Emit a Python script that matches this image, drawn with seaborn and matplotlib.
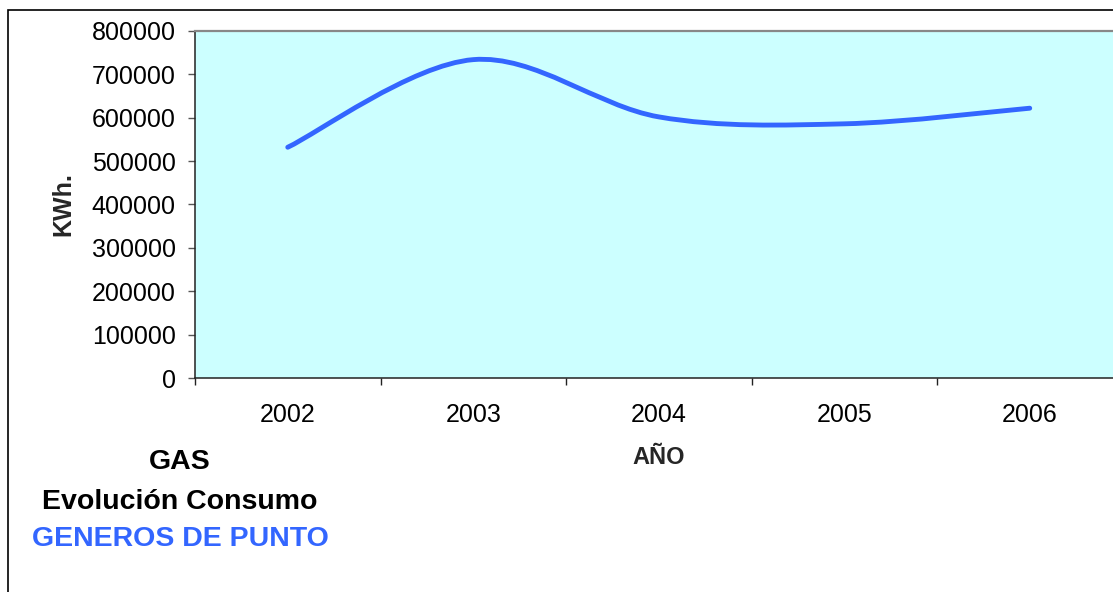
import numpy as np
import pandas as pd
import matplotlib
matplotlib.use("Agg")
import matplotlib.pyplot as plt
from matplotlib.path import Path
from matplotlib.patches import PathPatch, Rectangle
from matplotlib.ticker import FixedLocator, FuncFormatter
import seaborn as sns

# ---- data -------------------------------------------------------------
years = ["2002", "2003", "2004", "2005", "2006"]
consumo_kwh = [532000, 734000, 602000, 586000, 622000]
y_ticks = [0, 100000, 200000, 300000, 400000, 500000, 600000, 700000, 800000]

title_lines = ["GAS", "Evolución Consumo"]
subtitle = "GENEROS DE PUNTO"
x_label = "AÑO"
y_label = "KWh."

df = pd.DataFrame({"year": years, "kwh": consumo_kwh})

# ---- style ------------------------------------------------------------
sns.set_theme(style="white")
plt.rcParams["font.family"] = ["Liberation Sans", "DejaVu Sans"]

LINE_BLUE = "#3366FF"
PLOT_BG = "#CCFFFF"
TICK_FS = 18
TITLE_FS = 20.5

W, H = 1113, 592
fig = plt.figure(figsize=(W / 100, H / 100), dpi=100)
fig.patch.set_facecolor("white")

# plot area in pixel coordinates (right edge runs slightly past the canvas)
left, right, top, bottom = 195, 1122.5, 31, 378
ax = fig.add_axes([left / W, 1 - bottom / H, (right - left) / W, (bottom - top) / H])
ax.set_facecolor(PLOT_BG)

# ---- smoothed consumption line (Catmull-Rom style Bezier segments) ------
xs = np.arange(len(df), dtype=float)
ys = df["kwh"].to_numpy(dtype=float)
pts = np.column_stack([xs, ys])
ext = np.vstack([pts[0], pts, pts[-1]])
verts = [pts[0]]
codes = [Path.MOVETO]
for i in range(len(pts) - 1):
    p0, p1, p2, p3 = ext[i], ext[i + 1], ext[i + 2], ext[i + 3]
    c1 = p1 + (p2 - p0) / 6.0
    c2 = p2 - (p3 - p1) / 6.0
    verts += [c1, c2, p2]
    codes += [Path.CURVE4] * 3
curve = PathPatch(Path(verts, codes), fill=False, edgecolor=LINE_BLUE,
                  linewidth=3.5, capstyle="round", joinstyle="round",
                  transform=ax.transData, zorder=3)
ax.add_patch(curve)

# ---- axes ---------------------------------------------------------------
ax.set_xlim(-0.5, len(years) - 0.5)
ax.set_ylim(y_ticks[0], y_ticks[-1])
ax.grid(False)

ax.xaxis.set_major_locator(FixedLocator(xs))
ax.set_xticklabels(years)
ax.xaxis.set_minor_locator(FixedLocator(np.arange(-0.5, len(years), 1.0)))
ax.yaxis.set_major_locator(FixedLocator(y_ticks))
ax.yaxis.set_major_formatter(FuncFormatter(lambda v, _: f"{int(v)}"))

ax.tick_params(axis="x", which="major", bottom=True, length=0, pad=18,
               labelsize=TICK_FS, labelcolor="black")
ax.tick_params(axis="x", which="minor", bottom=True, length=5, width=1.0,
               direction="out", color="#222222")
ax.tick_params(axis="y", which="major", left=True, length=5, width=1.0,
               direction="out", color="#555555", pad=9, labelsize=TICK_FS,
               labelcolor="black")

for side in ("left", "bottom"):
    ax.spines[side].set_color("#222222")
    ax.spines[side].set_linewidth(1.1)
for side in ("top", "right"):
    ax.spines[side].set_color("#888888")
    ax.spines[side].set_linewidth(1.6)

ax.set_xlabel(x_label, fontsize=17, fontweight="bold", va="baseline")
ax.xaxis.set_label_coords(0.5, (bottom - 464) / (bottom - top))
ax.set_ylabel(y_label, fontsize=18, fontweight="bold", va="center")
ax.yaxis.set_label_coords((63 - left) / (right - left), 0.5)

# ---- title block ----------------------------------------------------------
title_x = 180 / W
fig.text(title_x, 1 - 469 / H, title_lines[0], ha="center", va="baseline",
         fontsize=TITLE_FS, fontweight="bold", color="black")
fig.text(title_x, 1 - 509 / H, title_lines[1], ha="center", va="baseline",
         fontsize=TITLE_FS, fontweight="bold", color="black")
fig.text(title_x, 1 - 546.5 / H, subtitle, ha="center", va="baseline",
         fontsize=TITLE_FS, fontweight="bold", color=LINE_BLUE)

# ---- chart frame ------------------------------------------------------------
frame = Rectangle((7.5 / W, -0.2), 1.2, 1.2 - 9.5 / H, transform=fig.transFigure,
                  fill=False, edgecolor="black", linewidth=1.2, zorder=0)
fig.patches.append(frame)

fig.savefig("out.png", dpi=100)
